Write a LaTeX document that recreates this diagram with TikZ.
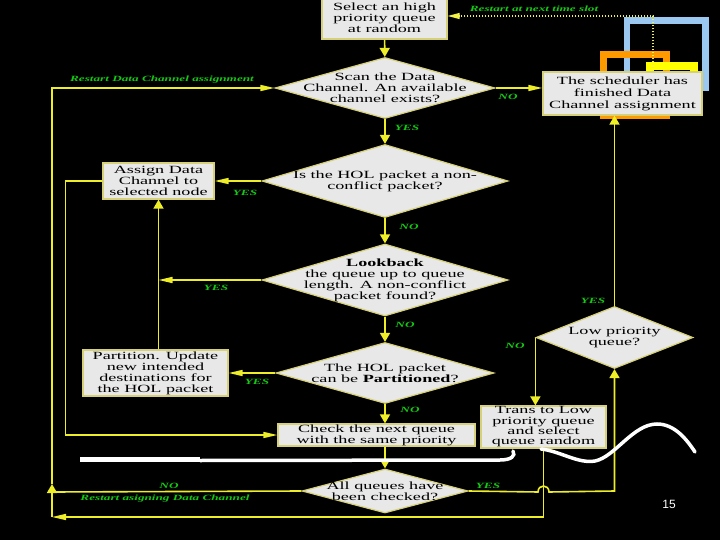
\documentclass[tikz,border=0pt]{standalone}
\usepackage{fontspec}
\setmainfont{Liberation Serif}[FakeStretch=1.65]
\newfontfamily\pagenumfont{Liberation Sans}
\usetikzlibrary{shapes.geometric, arrows.meta}
\definecolor{boxfill}{RGB}{232,232,232}
\definecolor{boxline}{RGB}{214,208,120}
\definecolor{flowcol}{RGB}{238,238,40}
\definecolor{tagcol}{RGB}{20,200,20}
\definecolor{decoblue}{RGB}{155,200,240}
\definecolor{decoorange}{RGB}{255,153,0}
\definecolor{decoyellow}{RGB}{255,255,0}

\begin{document}
\begin{tikzpicture}[x=1pt, y=-1pt,
  font=\fontsize{11}{11}\selectfont,
  box/.style={draw=boxline, fill=boxfill, line width=1.2pt, inner sep=0pt, align=center},
  ask/.style={diamond, draw=boxline, fill=boxfill, line width=1.2pt, inner sep=0pt},
  asktxt/.style={align=center, inner sep=0pt},
  tag/.style={text=tagcol, inner sep=0pt, font=\fontsize{8}{9}\selectfont\bfseries\itshape},
  link/.style={draw=flowcol, line width=1.6pt},
  varr/.style={link, -{Triangle[length=9pt, width=10pt]}},
  harr/.style={link, -{Triangle[length=14pt, width=6pt]}}]
\useasboundingbox (0,0) rectangle (720,540);
\fill[black] (0,0) rectangle (720,540);

% slide decoration behind the end box
\draw[decoblue, line width=6.5pt] (627.2,20.5) rectangle (705.5,87.5);
\draw[decoorange, line width=7pt] (603.3,54.5) rectangle (666.3,115.5);
\draw[decoyellow, line width=7.5pt] (649.5,66) rectangle (694,86);

% boxes
\node[box, minimum width=125pt, minimum height=42pt] (select) at (384.5,18) {Select an high\\priority queue\\at random};
\node[box, minimum width=159pt, minimum height=43pt, font=\fontsize{11}{12}\selectfont] (done) at (622.5,93.5) {The scheduler has\\finished Data\\Channel assignment};
\node[box, minimum width=111pt, minimum height=36pt] (assign) at (158.5,181) {Assign Data\\Channel to\\selected node};
\node[box, minimum width=145pt, minimum height=46pt] (split) at (155.5,373) {Partition. Update\\new intended\\destinations for\\the HOL packet};
\node[box, minimum width=197pt, minimum height=22pt] (check) at (376.5,435) {Check the next queue\\with the same priority};
\node[box, minimum width=125pt, minimum height=42pt, font=\fontsize{11}{10.3}\selectfont] (trans) at (543.5,427) {Trans to Low\\priority queue\\and select\\queue random};

% decisions
\node[ask, minimum width=220pt, minimum height=61pt] (scan) at (385,88) {};
\node[asktxt] (scantxt) at (scan) {Scan the Data\\Channel. An available\\channel exists?};
\node[ask, minimum width=246pt, minimum height=73pt] (hol) at (385,181) {};
\node[asktxt] (holtxt) at (hol) {Is the HOL packet a non-\\conflict packet?};
\node[ask, minimum width=246pt, minimum height=72pt] (look) at (385,280) {};
\node[asktxt] (looktxt) at (look) {\textbf{Lookback}\\the queue up to queue\\length. A non-conflict\\packet found?};
\node[ask, minimum width=218pt, minimum height=61pt] (cansplit) at (385,373) {};
\node[asktxt] (cansplittxt) at (cansplit) {The HOL packet\\can be \textbf{Partitioned}?};
\node[ask, minimum width=166pt, minimum height=44pt] (allq) at (385,491) {};
\node[asktxt] (allqtxt) at (allq) {All queues have\\been checked?};
\node[ask, minimum width=157pt, minimum height=62pt] (low) at (614.5,337.5) {};
\node[asktxt] (lowtxt) at (low) {Low priority\\queue?};

% corner points
\coordinate (dtop) at (653,16);
\coordinate (lbb) at (52,517);
\coordinate (lb) at (52,492);
\coordinate (lup) at (52,484);
\coordinate (lt) at (52,88);
\coordinate (hopl) at (538,492);
\coordinate (hopr) at (549,492);

% main column
\draw[varr] (select) -- (scan);
\draw[varr] (scan) -- (hol);
\draw[varr] (hol) -- (look);
\draw[varr] (look) -- (cansplit);
\draw[varr] (cansplit.south) -- (cansplit.south |- check.north);
\draw[varr] (allq.north |- check.south) -- (allq.north);

% left side
\draw[harr] (hol.west) -- (hol.west -| assign.east);
\draw[harr] (look.west) -- (look.west -| assign.south);
\draw[harr] (cansplit.west) -- (cansplit.west -| split.east);
\draw[varr] (split.north -| assign.south) -- (assign.south);
\draw[harr] (assign.west) -- ++(-37,0) |- (check.west);
\draw[link] (allq.west) -- (lb);
\draw[varr] (lbb) -- (lup);
\draw[harr] (lup) -- (lt) -- (scan.west);

% right side
\draw[harr] (scan.east) -- (scan.east -| done.west);
\draw[varr] (low.north) -- (low.north |- done.south);
\draw[varr] (low.west) -- (low.west |- trans.north);
\draw[harr] (trans.south) -- (trans.south |- lbb) -- (lbb);
\draw[varr] (allq.east) -- (hopl) .. controls +(0,-8) and +(0,-8) .. (hopr) -- (low.south |- allq.east) -- (low.south);
\draw[flowcol!85!white, line width=1.2pt, dash pattern=on 1.5pt off 1.5pt, -{Triangle[length=12pt, width=6pt]}] (done.north -| dtop) -- (dtop) -- (dtop -| select.east);

% labels
\node[tag] (rdc) at (162,80) {Restart Data Channel assignment};
\node[tag] (rnts) at (534,9) {Restart at next time slot};
\node[tag] (noscan) at (508,97) {NO};
\node[tag] (yesscan) at (407,128) {YES};
\node[tag] (yeshol) at (245,193) {YES};
\node[tag] (nohol) at (409,227) {NO};
\node[tag] (yeslook) at (216,288) {YES};
\node[tag] (nolook) at (405,325) {NO};
\node[tag] (yessplit) at (257,382) {YES};
\node[tag] (nosplit) at (410,410) {NO};
\node[tag] (yeslow) at (593,301) {YES};
\node[tag] (nolow) at (515,346) {NO};
\node[tag] (yesallq) at (488,486) {YES};
\node[tag] (noallq) at (169,486) {NO};
\node[tag] (rasg) at (165,499) {Restart asigning Data Channel};

% hand drawn stroke
\draw[white, line width=5pt] (80,459.5) -- (200,459.5);
\draw[white, line width=3.5pt, line cap=round] (200,460.5) -- (500,460) .. controls (511,460) and (516,456) .. (513,451);
\draw[white, line width=3.5pt, line cap=round] (541,449) .. controls (560,451) and (578,464) .. (595,461) .. controls (615,457) and (633,424) .. (657,424) .. controls (675,424) and (687,440) .. (695,452);

\node[text=white, font=\pagenumfont\fontsize{12}{12}\selectfont] (pagenum) at (669,504) {15};
\end{tikzpicture}
\end{document}
